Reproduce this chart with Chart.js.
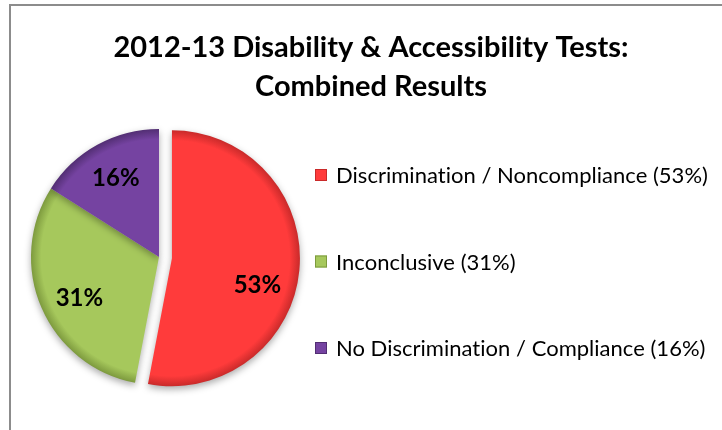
<!DOCTYPE html>
<html lang="en">
<head>
  <meta charset="UTF-8">
  <title>2012-13 Disability &amp; Accessibility Tests</title>
  <script src="https://cdn.jsdelivr.net/npm/chart.js@4.4.1/dist/chart.umd.min.js"></script>
  <style>
    html, body {
      margin: 0;
      padding: 0;
      background: #fff;
      overflow: hidden;
    }

    /* the grey frame of the original chart box */
    #frame {
      position: absolute;
      left: 9px;
      top: 4px;
      width: 780px;
      height: 480px;
      border-top: 2px solid #8c8c8c;
      border-left: 2px solid #8c8c8c;
    }

    #chart {
      position: absolute;
      left: 0;
      top: 0;
    }
  </style>
</head>
<body>
<div id="frame"></div>
<canvas id="chart" width="722" height="430"></canvas>

<script>
  const categories = ['Discrimination / Noncompliance', 'Inconclusive', 'No Discrimination / Compliance'];
  const shares = [53, 31, 16];  // percent of all tests
  const titleLines = ['2012-13 Disability & Accessibility Tests:', 'Combined Results'];

  const sliceColors = ['#ff3b3b', '#a6c85c', '#7543a1'];
  const edgeColors = ['#c92a2a', '#7d9a3e', '#522e73'];

  // where the pie sits on the page
  const PIE_X = 159, PIE_Y = 257, PIE_R = 128;
  const EXPLODE = [13, 0, 0];       // px the slice is pulled out
  const LABEL_TURN = [12, -4, 0];   // degrees, label nudge along the arc
  const LEGEND_X = 315, LEGEND_TOP = 175, LEGEND_STEP = 86.5;

  function sliceFill(c) {
    const area = c.chart.chartArea;
    const i = c.dataIndex;
    if (!area) return sliceColors[i];
    const x = (area.left + area.right) / 2;
    const y = (area.top + area.bottom) / 2;
    const g = c.chart.ctx.createRadialGradient(x, y, 0, x, y, PIE_R);
    g.addColorStop(0, sliceColors[i]);
    g.addColorStop(0.92, sliceColors[i]);
    g.addColorStop(1, edgeColors[i]);
    return g;
  }

  // move the plot area so the pie lands left of the legend
  const placePie = {
    id: 'placePie',
    afterLayout(chart) {
      const a = chart.chartArea;
      const half = PIE_R + 10;
      a.left = PIE_X - half;
      a.right = PIE_X + half;
      a.top = PIE_Y - half;
      a.bottom = PIE_Y + half;
      a.width = a.height = half * 2;
    }
  };

  const explodedPie = {
    id: 'explodedPie',
    beforeDatasetDraw(chart, args) {
      const ctx = chart.ctx;
      args.meta.data.forEach((arc, i) => {
        const mid = (arc.startAngle + arc.endAngle) / 2;
        ctx.save();
        ctx.translate(Math.cos(mid) * EXPLODE[i], Math.sin(mid) * EXPLODE[i]);
        ctx.shadowColor = 'rgba(0, 0, 0, 0.33)';
        ctx.shadowBlur = 7;
        ctx.shadowOffsetY = 3;
        arc.draw(ctx);
        ctx.restore();
      });
      return false;
    },
    afterDatasetsDraw(chart) {
      const ctx = chart.ctx;
      const arcs = chart.getDatasetMeta(0).data;
      ctx.save();
      ctx.font = 'bold 24px Lato';
      ctx.fillStyle = '#000';
      ctx.textAlign = 'center';
      ctx.textBaseline = 'middle';
      arcs.forEach((arc, i) => {
        const mid = (arc.startAngle + arc.endAngle) / 2;
        const turn = mid + LABEL_TURN[i] * Math.PI / 180;
        const r = arc.outerRadius * 0.7;
        const x = arc.x + Math.cos(mid) * EXPLODE[i] + Math.cos(turn) * r;
        const y = arc.y + Math.sin(mid) * EXPLODE[i] + Math.sin(turn) * r;
        ctx.fillText(shares[i] + '%', x, y);
      });

      // legend
      ctx.font = '22px Lato';
      ctx.textAlign = 'left';
      ctx.letterSpacing = '0.02px';  // stops Lato's "ti" ligature
      chart.data.labels.forEach((label, i) => {
        const y = LEGEND_TOP + i * LEGEND_STEP;
        ctx.fillStyle = sliceColors[i];
        ctx.fillRect(LEGEND_X, y - 6, 12, 12);
        ctx.strokeStyle = edgeColors[i];
        ctx.lineWidth = 1;
        ctx.strokeRect(LEGEND_X + 0.5, y - 5.5, 11, 11);
        ctx.fillStyle = '#000';
        ctx.fillText(label + ' (' + shares[i] + '%)', LEGEND_X + 21, y + 1);
      });
      ctx.restore();
    }
  };

  new Chart(document.getElementById('chart'), {
    type: 'pie',
    data: {
      labels: categories,
      datasets: [{
        data: shares,
        backgroundColor: sliceFill,
        borderWidth: 0,
        radius: PIE_R,
        clip: false
      }]
    },
    options: {
      responsive: false,
      animation: false,
      events: [],
      layout: {
        padding: {left: 20}   // keeps the title centred where the original was
      },
      plugins: {
        title: {
          display: true,
          text: titleLines,
          color: '#000',
          font: {family: 'Lato', size: 29, weight: 'bold', lineHeight: 1.345},
          padding: {top: 28, bottom: 0}
        },
        legend: {display: false},
        tooltip: {enabled: false}
      }
    },
    plugins: [placePie, explodedPie]
  });
</script>
</body>
</html>
